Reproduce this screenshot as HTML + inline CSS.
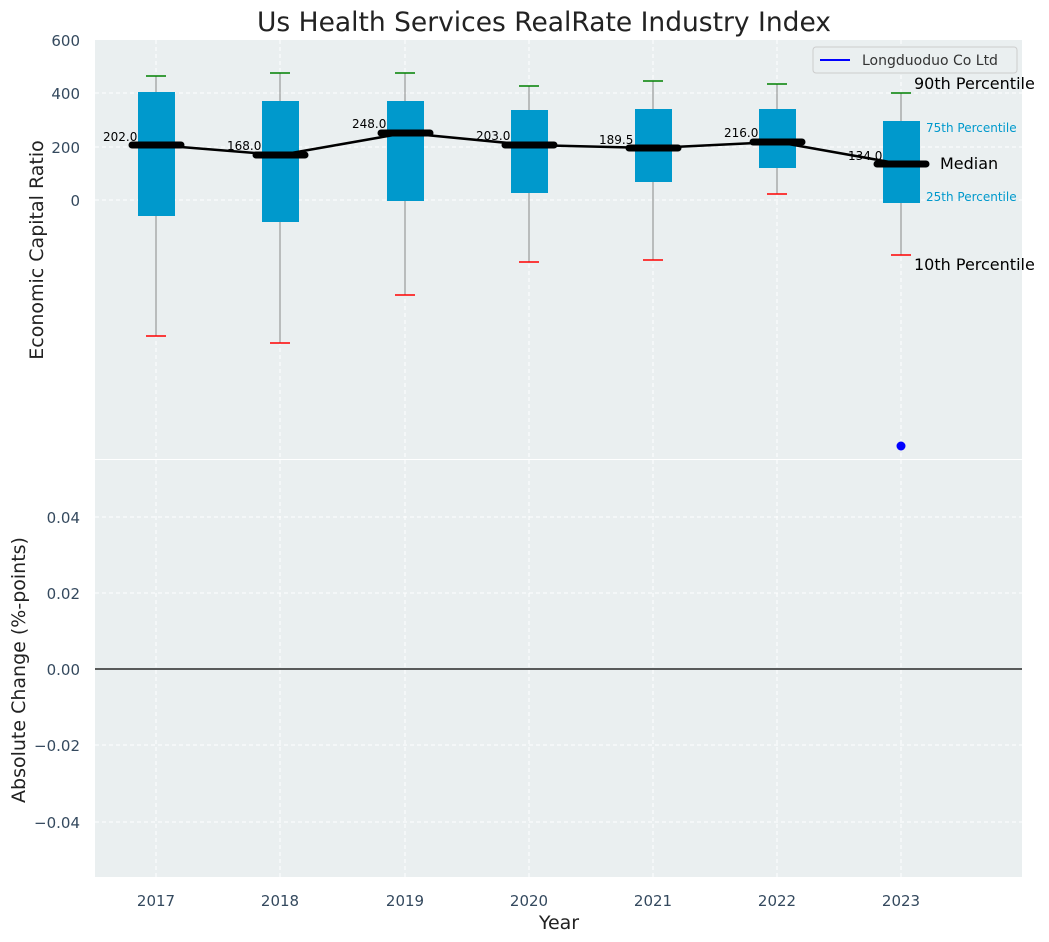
<!DOCTYPE html>
<html><head><style>body{margin:0;background:#fff}svg{display:block;font-family:"DejaVu Sans","Liberation Sans",sans-serif}</style></head><body>
<svg width="1049" height="942" viewBox="0 0 1049 942" xmlns="http://www.w3.org/2000/svg">
<rect width="1049" height="942" fill="#fff"/>
<text x="544" y="31" font-size="26.5" text-anchor="middle" fill="#222">Us Health Services RealRate Industry Index</text>
<rect x="95" y="40" width="927" height="419" fill="#eaeff0"/>
<rect x="95" y="460" width="927" height="417" fill="#eaeff0"/>
<g stroke="#fff" stroke-dasharray="4,3" stroke-width="1">
<line x1="95" x2="1022" y1="93" y2="93"/><line x1="95" x2="1022" y1="147" y2="147"/><line x1="95" x2="1022" y1="200" y2="200"/>
<line x1="95" x2="1022" y1="517" y2="517"/><line x1="95" x2="1022" y1="593" y2="593"/><line x1="95" x2="1022" y1="745" y2="745"/><line x1="95" x2="1022" y1="822" y2="822"/>
<line x1="156" x2="156" y1="40" y2="877"/><line x1="280" x2="280" y1="40" y2="877"/><line x1="405" x2="405" y1="40" y2="877"/><line x1="529" x2="529" y1="40" y2="877"/><line x1="653" x2="653" y1="40" y2="877"/><line x1="777" x2="777" y1="40" y2="877"/><line x1="901" x2="901" y1="40" y2="877"/>
</g>
<line x1="95" x2="1022" y1="669" y2="669" stroke="#000" stroke-width="1.2"/>
<g font-size="15" fill="#34495e" text-anchor="end">
<text x="80" y="46">600</text><text x="80" y="99">400</text><text x="80" y="153">200</text><text x="80" y="206">0</text>
<text x="80" y="523">0.04</text><text x="80" y="599">0.02</text><text x="80" y="675">0.00</text><text x="80" y="751">−0.02</text><text x="80" y="828">−0.04</text>
</g>
<g font-size="15" fill="#34495e" text-anchor="middle">
<text x="156" y="906">2017</text><text x="280" y="906">2018</text><text x="405" y="906">2019</text><text x="529" y="906">2020</text><text x="653" y="906">2021</text><text x="777" y="906">2022</text><text x="901" y="906">2023</text>
</g>
<text x="559" y="929" font-size="19" text-anchor="middle" fill="#222">Year</text>
<text transform="translate(43,250) rotate(-90)" font-size="19" text-anchor="middle" fill="#222">Economic Capital Ratio</text>
<text transform="translate(25,670) rotate(-90)" font-size="19" text-anchor="middle" fill="#222">Absolute Change (%-points)</text>
<g>
<line x1="156" x2="156" y1="76" y2="336" stroke="#888"/><rect x="138" y="92" width="37" height="124" fill="#0099cc"/><line x1="146" x2="166" y1="76" y2="76" stroke="green" stroke-width="1.5"/><line x1="146" x2="166" y1="336" y2="336" stroke="red" stroke-width="1.5"/>
<line x1="280" x2="280" y1="73" y2="343" stroke="#888"/><rect x="262" y="101" width="37" height="121" fill="#0099cc"/><line x1="270" x2="290" y1="73" y2="73" stroke="green" stroke-width="1.5"/><line x1="270" x2="290" y1="343" y2="343" stroke="red" stroke-width="1.5"/>
<line x1="405" x2="405" y1="73" y2="295" stroke="#888"/><rect x="387" y="101" width="37" height="100" fill="#0099cc"/><line x1="395" x2="415" y1="73" y2="73" stroke="green" stroke-width="1.5"/><line x1="395" x2="415" y1="295" y2="295" stroke="red" stroke-width="1.5"/>
<line x1="529" x2="529" y1="86" y2="262" stroke="#888"/><rect x="511" y="110" width="37" height="83" fill="#0099cc"/><line x1="519" x2="539" y1="86" y2="86" stroke="green" stroke-width="1.5"/><line x1="519" x2="539" y1="262" y2="262" stroke="red" stroke-width="1.5"/>
<line x1="653" x2="653" y1="81" y2="260" stroke="#888"/><rect x="635" y="109" width="37" height="73" fill="#0099cc"/><line x1="643" x2="663" y1="81" y2="81" stroke="green" stroke-width="1.5"/><line x1="643" x2="663" y1="260" y2="260" stroke="red" stroke-width="1.5"/>
<line x1="777" x2="777" y1="84" y2="194" stroke="#888"/><rect x="759" y="109" width="37" height="59" fill="#0099cc"/><line x1="767" x2="787" y1="84" y2="84" stroke="green" stroke-width="1.5"/><line x1="767" x2="787" y1="194" y2="194" stroke="red" stroke-width="1.5"/>
<line x1="901" x2="901" y1="93" y2="255" stroke="#888"/><rect x="883" y="121" width="37" height="82" fill="#0099cc"/><line x1="891" x2="911" y1="93" y2="93" stroke="green" stroke-width="1.5"/><line x1="891" x2="911" y1="255" y2="255" stroke="red" stroke-width="1.5"/>
</g>
<polyline points="156,145 280,155 405,133 529,145 653,148 777,142 901,164" fill="none" stroke="#000" stroke-width="2.5"/>
<g stroke="#000" stroke-width="7" stroke-linecap="round">
<line x1="132" x2="181" y1="145" y2="145"/><line x1="256" x2="305" y1="155" y2="155"/><line x1="381" x2="430" y1="133" y2="133"/><line x1="505" x2="554" y1="145" y2="145"/><line x1="629" x2="678" y1="148" y2="148"/><line x1="753" x2="802" y1="142" y2="142"/><line x1="877" x2="926" y1="164" y2="164"/>
</g>
<g font-size="12" fill="#000">
<text x="103" y="141">202.0</text><text x="227" y="150">168.0</text><text x="352" y="128">248.0</text><text x="476" y="140">203.0</text><text x="599" y="144">189.5</text><text x="724" y="137">216.0</text><text x="848" y="160">134.0</text>
</g>
<text x="914" y="89" font-size="16" fill="#000">90th Percentile</text>
<text x="926" y="132" font-size="12" fill="#0099cc">75th Percentile</text>
<text x="940" y="169" font-size="16" fill="#000">Median</text>
<text x="926" y="201" font-size="12" fill="#0099cc">25th Percentile</text>
<text x="914" y="270" font-size="16" fill="#000">10th Percentile</text>
<circle cx="901" cy="446" r="4.5" fill="#0000ff"/>
<rect x="813" y="47" width="204" height="26" fill="#eaeff0" stroke="#ccc" rx="3"/>
<line x1="820" x2="850" y1="60" y2="60" stroke="#0000ff" stroke-width="2"/>
<text x="862" y="65" font-size="14" fill="#333">Longduoduo Co Ltd</text>
</svg>
</body></html>
